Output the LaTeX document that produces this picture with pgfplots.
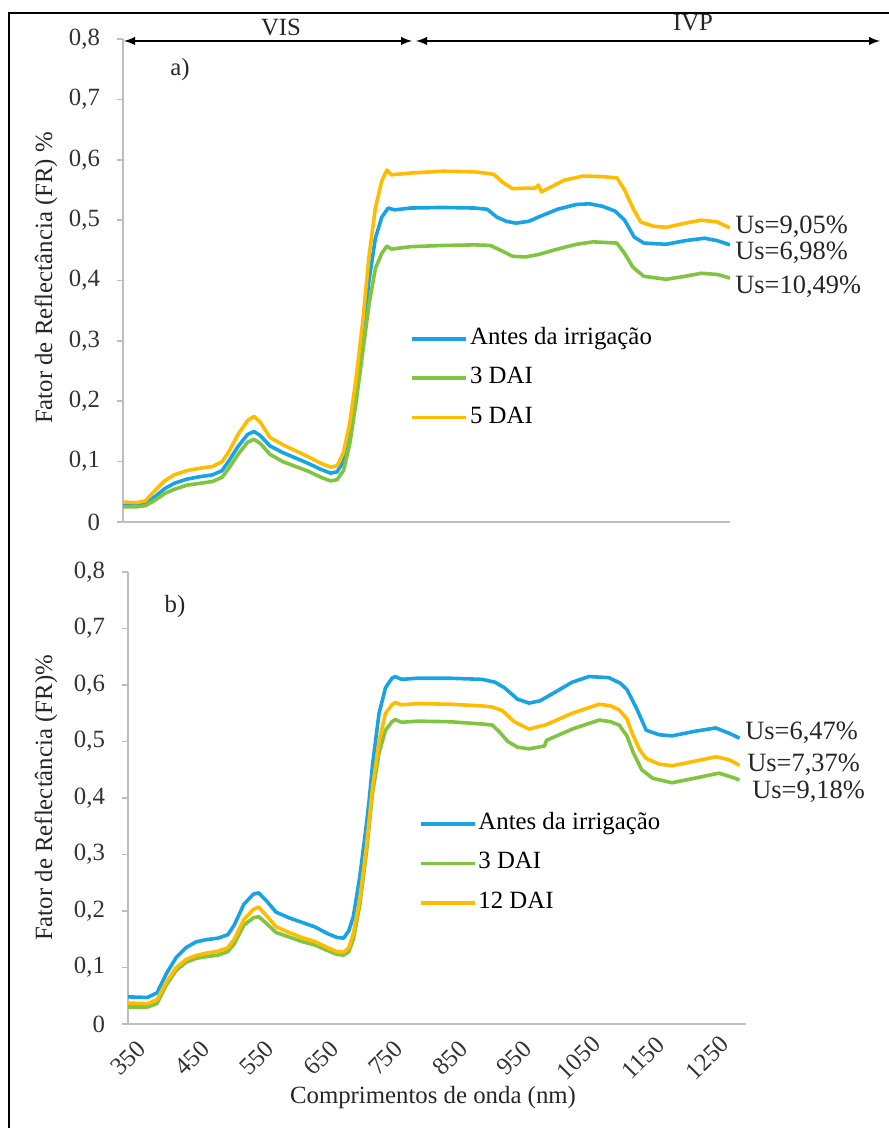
\documentclass[border=0pt]{standalone}
\usepackage{fontspec}
\setmainfont{Liberation Serif}
\usepackage{pgfplots}
\pgfplotsset{compat=1.18}
\definecolor{cblue}{RGB}{24,164,228}
\definecolor{cgreen}{RGB}{128,196,64}
\definecolor{corange}{RGB}{255,188,0}
\definecolor{axgray}{RGB}{190,190,190}
\newcommand{\fs}{\fontsize{12.4}{14}\selectfont}
\newcommand{\fu}{\fontsize{13.2}{15}\selectfont}
\pgfplotsset{
  refl/.style={
    scale only axis, xmin=350, ymin=0, ymax=0.8,
    axis x line*=bottom, axis y line*=left,
    axis line style={axgray, line width=0.8pt},
    ytick={0,0.1,0.2,0.3,0.4,0.5,0.6,0.7,0.8},
    yticklabels={0,{0,1},{0,2},{0,3},{0,4},{0,5},{0,6},{0,7},{0,8}},
    ytick style={axgray, line width=0.8pt},
    tick align=outside, major tick length=3pt,
    tick label style={font=\fs, text=black!80},
    yticklabel style={xshift=-5pt},
    legend cell align=left,
    legend image code/.code={\draw[#1] (0pt,0pt) -- (27pt,0pt);},
    legend style={draw=none, fill=none, font=\fs, inner sep=0pt, row sep=7.2pt,
      nodes={inner sep=1pt, text height=8pt, text depth=2.5pt}},
    every axis plot/.append style={line width=1.8pt, line join=round, no marks},
  }
}
\begin{document}
\begin{tikzpicture}
\useasboundingbox (0,0) rectangle (444pt,564pt);
\draw[line width=1pt] (4.5pt,-10pt) -- (4.5pt,557.5pt) -- (460pt,557.5pt);

% ---------- panel a ----------
\begin{axis}[refl, at={(61.5pt,303pt)}, anchor=south west,
  width=303.5pt, height=241.5pt, xmax=1300, xtick=\empty,
  legend style={at={(0.473,0.406)}, anchor=north west}]
\addplot[cblue] table {
350 0.028
370 0.028
385 0.030
400 0.042
415 0.055
430 0.064
450 0.071
470 0.075
490 0.078
505 0.085
515 0.100
530 0.125
545 0.145
555 0.150
565 0.143
580 0.126
600 0.115
620 0.106
640 0.097
660 0.087
675 0.081
685 0.083
695 0.100
705 0.150
715 0.220
725 0.300
735 0.400
745 0.470
755 0.505
765 0.520
775 0.517
800 0.520
850 0.521
900 0.520
920 0.518
935 0.505
950 0.498
965 0.495
985 0.498
1000 0.505
1030 0.518
1060 0.526
1080 0.527
1100 0.523
1120 0.515
1135 0.500
1150 0.472
1165 0.462
1200 0.460
1230 0.466
1260 0.470
1280 0.466
1300 0.459
};
\addlegendentry{Antes da irrigação}
\addplot[cgreen] table {
350 0.025
370 0.025
385 0.027
400 0.036
415 0.047
430 0.054
450 0.061
470 0.064
490 0.067
505 0.074
515 0.088
530 0.112
545 0.132
555 0.137
565 0.130
580 0.112
600 0.100
620 0.092
640 0.084
660 0.074
675 0.068
685 0.070
695 0.085
705 0.130
715 0.200
725 0.280
735 0.360
745 0.420
755 0.445
763 0.457
770 0.452
800 0.456
850 0.458
900 0.459
925 0.458
945 0.448
960 0.440
980 0.439
1000 0.443
1030 0.452
1060 0.460
1086 0.464
1123 0.462
1135 0.445
1148 0.422
1165 0.407
1200 0.402
1230 0.407
1255 0.412
1280 0.410
1300 0.404
};
\addlegendentry{3 DAI}
\addplot[corange] table {
350 0.033
370 0.032
385 0.035
400 0.052
415 0.068
430 0.078
450 0.085
470 0.089
490 0.092
505 0.100
515 0.115
530 0.145
545 0.168
555 0.175
565 0.165
580 0.140
600 0.128
620 0.118
640 0.108
660 0.097
675 0.091
685 0.093
695 0.115
705 0.165
715 0.240
725 0.330
735 0.440
745 0.520
755 0.565
763 0.583
770 0.575
800 0.578
850 0.581
900 0.580
930 0.576
945 0.562
960 0.552
980 0.553
995 0.553
1000 0.558
1005 0.547
1020 0.555
1040 0.566
1070 0.573
1100 0.572
1123 0.570
1135 0.550
1148 0.520
1160 0.497
1180 0.490
1200 0.488
1230 0.495
1255 0.500
1280 0.497
1300 0.487
};
\addlegendentry{5 DAI}
\end{axis}

% ---------- panel b ----------
\begin{axis}[refl, at={(64pt,52pt)}, anchor=south west,
  width=309pt, height=226pt, xmax=1310,
  xtick={350,450,550,650,750,850,950,1050,1150,1250},
  xticklabels={350,450,550,650,750,850,950,1050,1150,1250},
  xtick style={draw=none},
  xticklabel style={yshift=-14pt, rotate=45, anchor=center},
  legend style={at={(0.470,0.471)}, anchor=north west}]
\addplot[cblue] table {
350 0.048
380 0.047
395 0.055
410 0.090
425 0.118
440 0.135
455 0.145
470 0.149
490 0.152
505 0.158
515 0.175
530 0.212
545 0.230
553 0.232
565 0.218
580 0.198
600 0.188
620 0.180
640 0.172
660 0.160
675 0.153
685 0.152
693 0.165
700 0.190
710 0.260
720 0.350
725 0.400
730 0.460
740 0.550
750 0.595
760 0.612
765 0.615
775 0.610
800 0.612
850 0.612
900 0.610
920 0.605
935 0.595
955 0.575
973 0.568
990 0.572
1010 0.585
1040 0.605
1066 0.615
1097 0.613
1115 0.603
1125 0.592
1139 0.561
1155 0.520
1175 0.512
1195 0.510
1230 0.518
1263 0.524
1283 0.515
1300 0.506
};
\addlegendentry{Antes da irrigação}
\addplot[cgreen] table {
350 0.030
380 0.030
395 0.036
410 0.070
425 0.095
440 0.109
455 0.116
470 0.119
490 0.122
505 0.128
515 0.142
530 0.175
545 0.188
553 0.190
565 0.178
580 0.162
600 0.154
620 0.146
640 0.140
660 0.130
675 0.123
685 0.122
693 0.128
700 0.150
710 0.210
720 0.300
730 0.410
740 0.480
750 0.520
760 0.535
765 0.539
775 0.534
800 0.536
850 0.535
900 0.531
916 0.529
927 0.517
940 0.500
955 0.490
973 0.487
997 0.492
1000 0.502
1040 0.522
1082 0.538
1100 0.535
1113 0.529
1125 0.510
1135 0.480
1148 0.450
1165 0.435
1195 0.427
1230 0.435
1268 0.444
1285 0.438
1300 0.432
};
\addlegendentry{3 DAI}
\addplot[corange] table {
350 0.037
380 0.036
395 0.043
410 0.075
425 0.100
440 0.114
455 0.121
470 0.125
490 0.129
505 0.135
515 0.150
530 0.185
545 0.203
553 0.207
565 0.192
580 0.172
600 0.162
620 0.153
640 0.146
660 0.135
675 0.128
685 0.127
693 0.135
700 0.160
710 0.220
720 0.310
730 0.420
740 0.500
750 0.550
760 0.565
765 0.569
775 0.565
800 0.567
850 0.566
900 0.563
916 0.561
931 0.555
950 0.535
973 0.522
1000 0.530
1040 0.550
1082 0.566
1100 0.563
1113 0.556
1125 0.540
1133 0.515
1145 0.485
1155 0.470
1175 0.460
1195 0.457
1230 0.465
1263 0.473
1283 0.468
1300 0.458
};
\addlegendentry{12 DAI}
\end{axis}

% ---------- annotations ----------
\begin{scope}[font=\fs, every node/.style={inner sep=0pt, text=black!85}]
\node[rotate=90] at (23pt,425pt) {Fator de Reflectância (FR) \%};
\node[rotate=90] at (23pt,165pt) {Fator de Reflectância (FR)\%};
\node at (216.5pt,15pt) {Comprimentos de onda (nm)};
\node at (90pt,529pt) {a)};
\node at (87.5pt,260.5pt) {b)};
\node[anchor=west, font=\fu] at (367.5pt,450.5pt) {Us=9,05\%};
\node[anchor=west, font=\fu] at (367.5pt,437.5pt) {Us=6,98\%};
\node[anchor=west, font=\fu] at (367.5pt,420.5pt) {Us=10,49\%};
\node[anchor=west, font=\fu] at (372.5pt,197.5pt) {Us=6,47\%};
\node[anchor=west, font=\fu] at (373.5pt,181.5pt) {Us=7,37\%};
\node[anchor=west, font=\fu] at (376pt,168pt) {Us=9,18\%};
\node at (140.5pt,550.5pt) {VIS};
\node at (346.5pt,552.5pt) {IVP};
\end{scope}
\draw[line width=0.9pt, latex-latex] (62pt,543.5pt) -- (206pt,543.5pt);
\draw[line width=0.9pt, latex-latex] (208pt,543.5pt) -- (440pt,543.5pt);
\end{tikzpicture}
\end{document}
